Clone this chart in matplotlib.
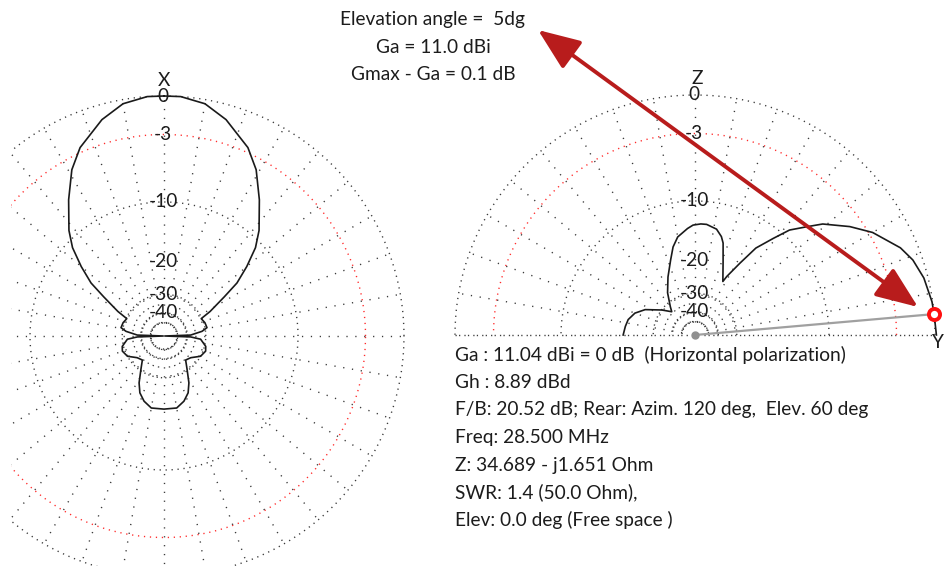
import numpy as np
import matplotlib.pyplot as plt
from matplotlib.patches import Rectangle

# azimuth pattern (left, X forward), one side, mirrored
az_deg = [0, 4, 10, 16, 24, 29, 35, 42, 46, 50, 54, 57, 62, 65, 72, 79, 83, 88, 90,
          92, 95, 104, 110, 119, 129, 138, 145, 152, 157, 163, 170, 180]
az_db = [0.0, 0.0, -0.3, -1.1, -2.6, -4.0, -6.3, -9.0, -10.9, -13.7, -16.8, -20.7, -26.2,
         -30.3, -29.5, -29.2, -31.5, -37.7, -99, -37.7, -32.2, -29.5, -29.0, -30.0, -33.3,
         -34.4, -30.7, -25.9, -23.3, -21.6, -20.4, -20.4]

# elevation pattern (right), angle from horizon
el_deg = [0, 5, 8, 14, 19, 23, 30, 35, 41, 44, 48, 51, 55, 58, 61.5, 62.5, 69, 73, 75,
          78.5, 84, 87, 91, 94, 100, 104, 108, 115, 123, 131, 135, 143, 153, 160, 167, 173, 180]
el_db = [0.1, 0.0, -0.05, -0.3, -0.7, -1.25, -2.7, -4.1, -6.0, -7.4, -9.1, -11.3, -14.0,
         -17.9, -22.0, -23.7, -19.2, -15.7, -14.7, -13.7, -13.2, -13.2, -13.4, -13.9, -15.1,
         -16.7, -19.1, -22.7, -26.8, -31.8, -34.1, -30.1, -25.0, -22.7, -21.5, -21.1, -20.7]

ring_db = [0, -3, -10, -30, -40, -50]
tick_db = [0, -3, -10, -20, -30, -40]
tick_txt = ['0', '-3', '-10', '-20', '-30', '-40']
elev_angle = 5

info = ['Ga : 11.04 dBi = 0 dB  (Horizontal polarization)',
        'Gh : 8.89 dBd',
        'F/B: 20.52 dB; Rear: Azim. 120 deg,  Elev. 60 deg',
        'Freq: 28.500 MHz',
        'Z: 34.689 - j1.651 Ohm',
        'SWR: 1.4 (50.0 Ohm),',
        'Elev: 0.0 deg (Free space )']
head = ['Elevation angle =  5dg', 'Ga = 11.0 dBi', 'Gmax - Ga = 0.1 dB']

R = 240
LC = (164, 336)
RC = (695, 335)
FONT = 'Lato'
FS = 13.8
TXT = '#1c1c1c'
GRID = '#3a3a3a'


def rad(db):
    return R * 0.89 ** (-np.asarray(db, dtype=float) / 2)


fig = plt.figure(figsize=(9.44, 5.66), dpi=100)
ax = fig.add_axes([0, 0, 1, 1])
ax.set_xlim(0, 944)
ax.set_ylim(566, 0)
ax.axis('off')

clip = Rectangle((11, 0), 933, 566, transform=ax.transData, fill=False, lw=0)
ax.add_patch(clip)

dots_ring = (0, (0.9, 3.4))
dots_spoke = (0, (0.9, 5.5))

# ---- left chart grid
t = np.linspace(0, 2 * np.pi, 721)
for db in ring_db:
    r = rad(db)
    col = '#ff2a2a' if db == -3 else GRID
    ls = dots_ring if db > -30 else (0, (0.9, 2.2))
    ln, = ax.plot(LC[0] + r * np.cos(t), LC[1] - r * np.sin(t), ls=ls, color=col, lw=1.0)
    ln.set_clip_path(clip)
for a in np.radians(np.arange(0, 360, 10)):
    ln, = ax.plot([LC[0] + rad(-50) * np.cos(a), LC[0] + R * np.cos(a)],
                  [LC[1] - rad(-50) * np.sin(a), LC[1] - R * np.sin(a)],
                  ls=dots_spoke, color=GRID, lw=1.0)
    ln.set_clip_path(clip)

# ---- right chart grid (upper half)
t2 = np.linspace(0, np.pi, 361)
for db in ring_db:
    r = rad(db)
    col = '#ff2a2a' if db == -3 else GRID
    ls = dots_ring if db > -30 else (0, (0.9, 2.2))
    ax.plot(RC[0] + r * np.cos(t2), RC[1] - r * np.sin(t2), ls=ls, color=col, lw=1.0)
for a in np.radians(np.arange(0, 181, 10)):
    ax.plot([RC[0] + rad(-50) * np.cos(a), RC[0] + R * np.cos(a)],
            [RC[1] - rad(-50) * np.sin(a), RC[1] - R * np.sin(a)],
            ls=dots_spoke, color=GRID, lw=1.0)
ax.plot([RC[0] - R, RC[0] + R], [RC[1], RC[1]], ls=dots_spoke, color=GRID, lw=1.0)

# ---- azimuth pattern
th = np.radians(np.concatenate([az_deg, 360 - np.array(az_deg[::-1])]))
rr = rad(np.concatenate([az_db, az_db[::-1]]))
ax.plot(LC[0] + rr * np.sin(th), LC[1] - rr * np.cos(th), color='#1a1a1a', lw=1.2)

# ---- elevation pattern
ph = np.radians(el_deg)
re = rad(el_db)
ax.plot(RC[0] + re * np.cos(ph), RC[1] - re * np.sin(ph), color='#1a1a1a', lw=1.2)

# elevation marker
pa = np.radians(elev_angle)
mx, my = RC[0] + R * np.cos(pa), RC[1] - R * np.sin(pa)
ax.plot([RC[0], mx], [RC[1], my], color='#a0a0a0', lw=1.6)
ax.plot(RC[0], RC[1], 'o', color='#909090', ms=5)
ax.plot(mx, my, 'o', ms=8, mfc='white', mec='#ff1010', mew=2.8)

# tick labels
for c in (LC, RC):
    for db, s in zip(tick_db, tick_txt):
        ax.text(c[0] - 1, c[1] - rad(db), s, ha='center', va='center',
                fontsize=FS, family=FONT, color=TXT)
ax.text(LC[0], 80, 'X', ha='center', va='center', fontsize=FS, family=FONT, color=TXT)
ax.text(RC[0] + 2, 79, 'Z', ha='center', va='center', fontsize=FS, family=FONT, color=TXT)
ax.text(943, 342, 'Y', ha='right', va='center', fontsize=FS, family=FONT, color=TXT)

# header text
for i, s in enumerate(head):
    ax.text(433, 20 + i * 27.5, s, ha='center', va='center', fontsize=FS, family=FONT, color=TXT)

# info block
for i, s in enumerate(info):
    ax.text(455, 355 + i * 27.5, s, ha='left', va='center', fontsize=FS, family=FONT, color=TXT)

# red double arrow
ax.annotate('', xy=(918, 307), xytext=(538, 30),
            arrowprops=dict(arrowstyle='<|-|>,head_length=1.0,head_width=0.4',
                            color='#b81c1c', lw=2.8, mutation_scale=26,
                            shrinkA=0, shrinkB=0))

fig.savefig('out.png', dpi=100)
